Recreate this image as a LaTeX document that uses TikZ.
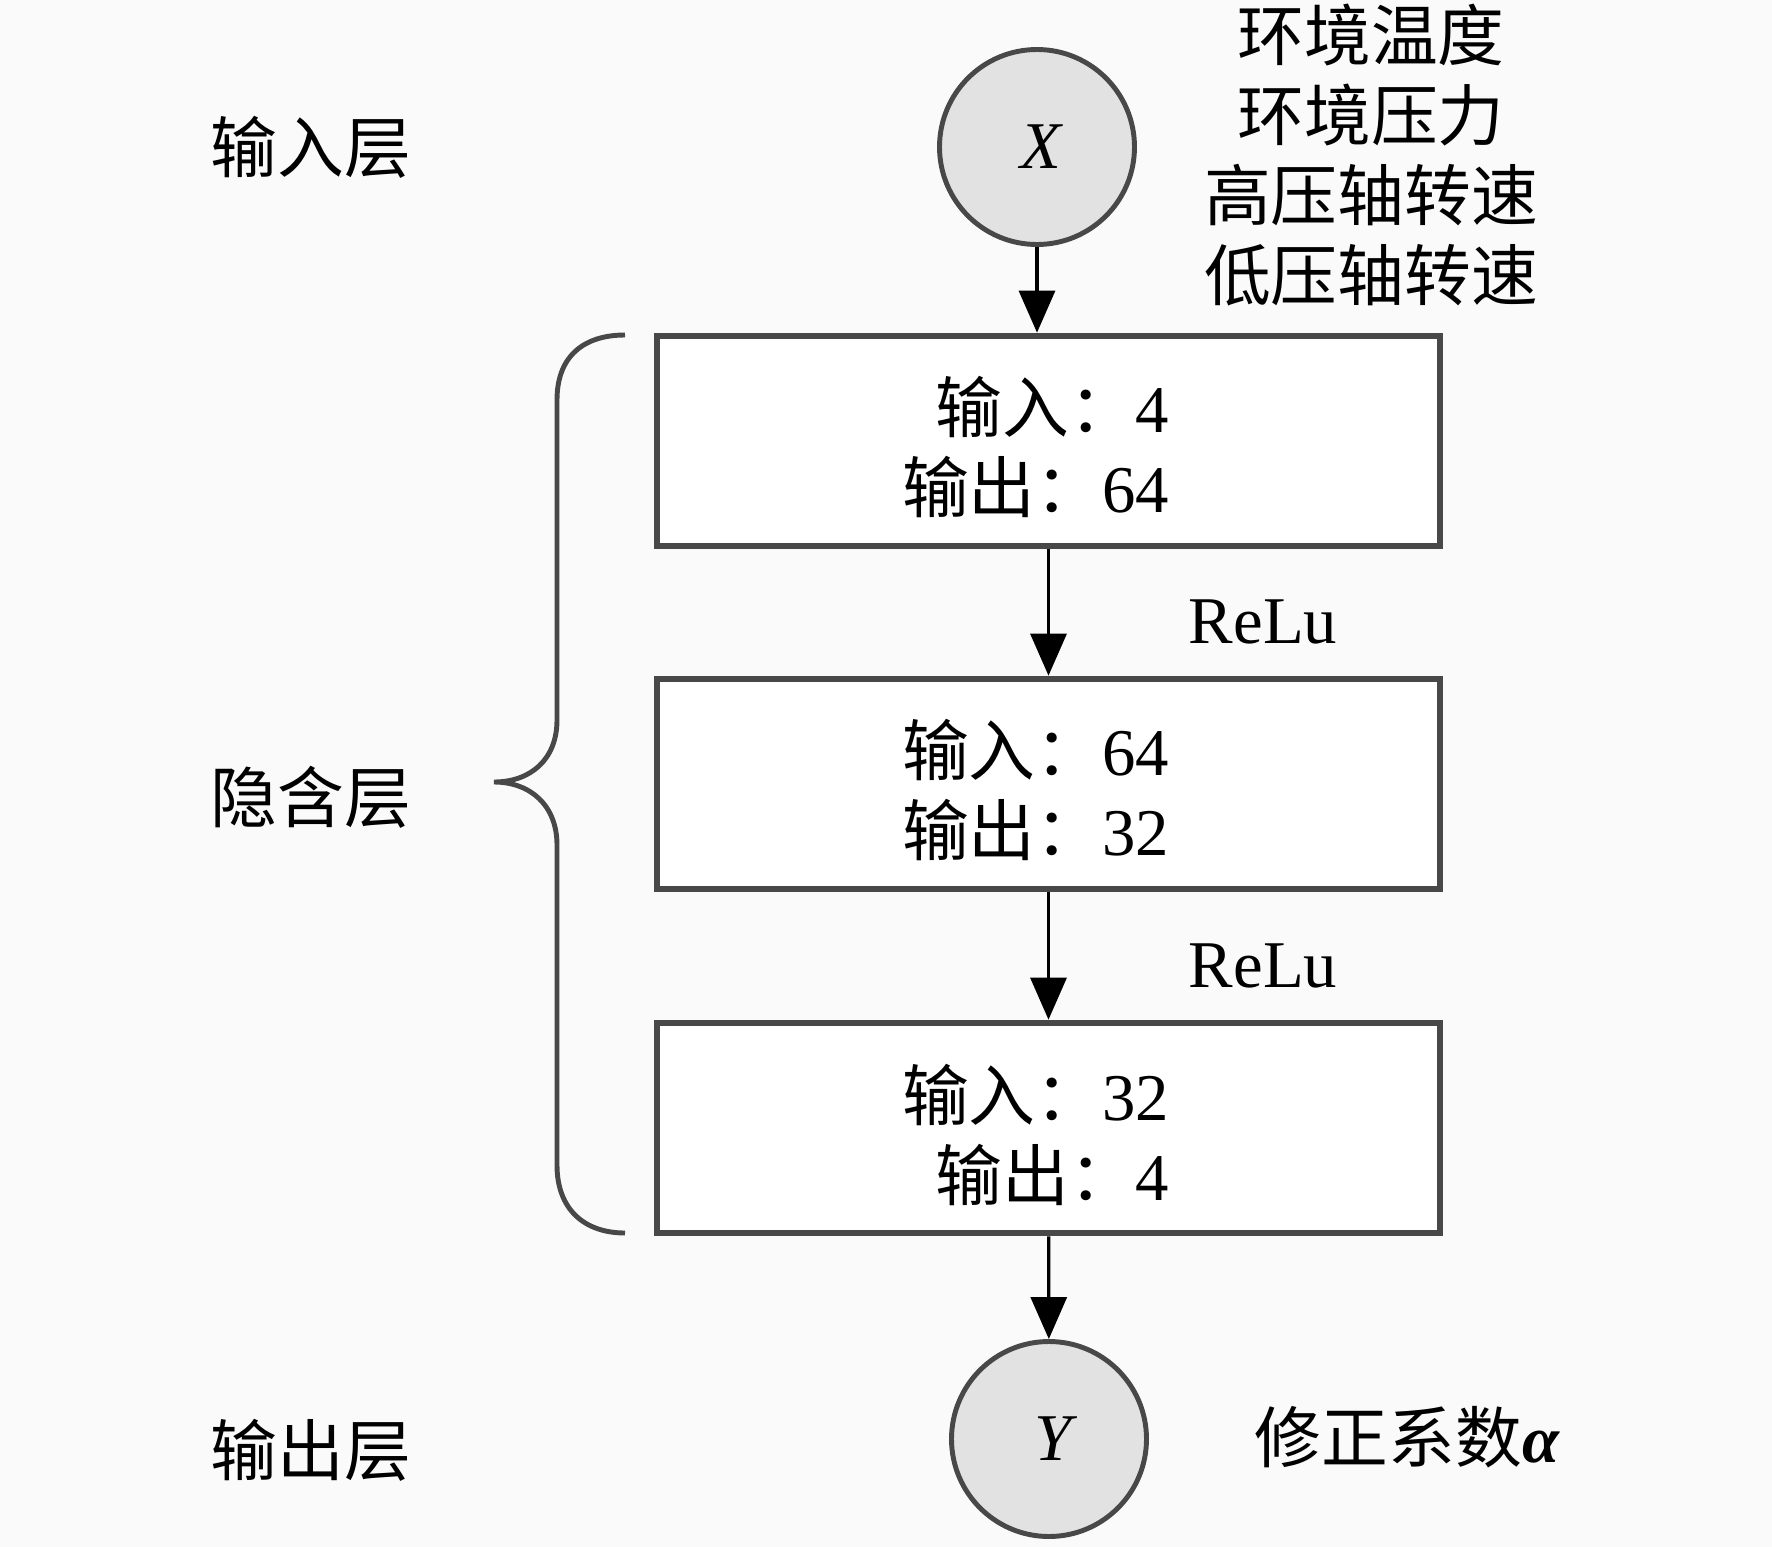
\documentclass[tikz,border=0pt]{standalone}
\usepackage{fontspec}
\setmainfont{Liberation Serif}
\newfontfamily\cjk{Noto Sans CJK SC}
\usepackage{tikz}
\usetikzlibrary{arrows.meta}
\definecolor{bgcol}{RGB}{250,250,250}
\definecolor{edgecol}{RGB}{72,72,72}
\definecolor{nodecol}{RGB}{226,226,226}

\begin{document}
\begin{tikzpicture}[
    every node/.style={font=\fontsize{19}{23}\selectfont},
    cjktext/.style={font=\cjk\fontsize{19}{23}\selectfont},
    neuron/.style={circle, draw=edgecol, line width=1.4pt, fill=nodecol, minimum size=1.95cm, inner sep=0pt},
    layerbox/.style={rectangle, draw=edgecol, line width=1.9pt, fill=white, minimum width=7.83cm, minimum height=2.1cm},
    boxtext/.style={anchor=east, align=right, inner sep=0pt},
    flow/.style={-{Triangle[length=4.2mm, width=3.6mm]}, line width=0.9pt}
]
            \fill[bgcol] (0,0) rectangle (17.72,-15.47);
            \useasboundingbox (0,0) rectangle (17.72,-15.47);

            % layer names
            \node[cjktext] (inlab) at (3.11,-1.47) {输入层};
            \node[cjktext] (hidlab) at (3.11,-7.97) {隐含层};
            \node[cjktext] (outlab) at (3.11,-14.50) {输出层};

            % input
            \node[neuron] (X) at (10.37,-1.47) {\hspace{1mm}\textit{X}};
            \node[cjktext, align=center, font=\cjk\fontsize{19}{22.8}\selectfont] (feat) at (13.71,-1.55)
                {环境温度\\环境压力\\高压轴转速\\低压轴转速};

            % hidden layers
            \node[layerbox] (h1) at (10.485,-4.41) {};
            \node[layerbox] (h2) at (10.485,-7.84) {};
            \node[layerbox] (h3) at (10.485,-11.28) {};

            \node[boxtext] (t1) at (11.70,-4.47) {{\cjk 输入：}4\\{\cjk 输出：}64};
            \node[boxtext] (t2) at (11.70,-7.90) {{\cjk 输入：}64\\{\cjk 输出：}32};
            \node[boxtext] (t3) at (11.70,-11.35) {{\cjk 输入：}32\\{\cjk 输出：}4};

            \node (act1) at (12.63,-6.22) {ReLu};
            \node (act2) at (12.63,-9.66) {ReLu};

            % output
            \node[neuron] (Y) at (10.49,-14.39) {\hspace{1.5mm}\textit{Y}};
            \node[cjktext] (coef) at (14.07,-14.37) {修正系数{\rmfamily\bfseries\itshape α}};

            \draw[flow] (X) -- (X |- h1.north);
            \draw[flow] (h1) -- (h2);
            \draw[flow] (h2) -- (h3);
            \draw[flow] (h3) -- (Y);

            % brace
            \draw[edgecol, line width=1.4pt] (6.25,-3.35) .. controls (5.85,-3.35) and (5.57,-3.55) .. (5.57,-4.0)
                -- (5.57,-7.2) .. controls (5.57,-7.6) and (5.3,-7.82) .. (4.94,-7.82)
                .. controls (5.3,-7.82) and (5.57,-8.05) .. (5.57,-8.45)
                -- (5.57,-11.65) .. controls (5.57,-12.1) and (5.85,-12.33) .. (6.25,-12.33);
        \end{tikzpicture}
\end{document}
